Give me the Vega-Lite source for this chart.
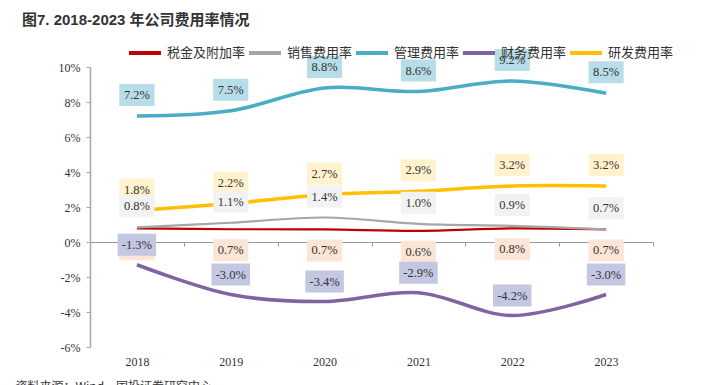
{
  "$schema": "https://vega.github.io/schema/vega-lite/v6.json",
  "width": 563,
  "height": 280,
  "autosize": {"type": "none"},
  "padding": {"left": 90, "top": 67, "right": 48, "bottom": 38},
  "background": "white",
  "title": {
    "text": "图7. 2018-2023 年公司费用率情况",
    "anchor": "start",
    "frame": "group",
    "dx": -68,
    "offset": 7,
    "fontSize": 15,
    "fontWeight": "bold",
    "font": "Liberation Sans, Noto Sans CJK SC",
    "color": "#333333"
  },
  "config": {
    "view": {"stroke": null},
    "locale": {
      "number": {"decimal": ".", "thousands": ",", "grouping": [3], "currency": ["$", ""], "minus": "-"}
    }
  },
  "data": {
    "values": [
      {"year": "2018", "series": "研发费用率", "value": 0.018},
      {"year": "2019", "series": "研发费用率", "value": 0.022},
      {"year": "2020", "series": "研发费用率", "value": 0.027},
      {"year": "2021", "series": "研发费用率", "value": 0.029},
      {"year": "2022", "series": "研发费用率", "value": 0.032},
      {"year": "2023", "series": "研发费用率", "value": 0.032},
      {"year": "2018", "series": "税金及附加率", "value": 0.0078},
      {"year": "2019", "series": "税金及附加率", "value": 0.0073},
      {"year": "2020", "series": "税金及附加率", "value": 0.0072},
      {"year": "2021", "series": "税金及附加率", "value": 0.0064},
      {"year": "2022", "series": "税金及附加率", "value": 0.0078},
      {"year": "2023", "series": "税金及附加率", "value": 0.0072},
      {"year": "2018", "series": "销售费用率", "value": 0.0084},
      {"year": "2019", "series": "销售费用率", "value": 0.011},
      {"year": "2020", "series": "销售费用率", "value": 0.014},
      {"year": "2021", "series": "销售费用率", "value": 0.0104},
      {"year": "2022", "series": "销售费用率", "value": 0.0092},
      {"year": "2023", "series": "销售费用率", "value": 0.0072},
      {"year": "2018", "series": "管理费用率", "value": 0.072},
      {"year": "2019", "series": "管理费用率", "value": 0.075},
      {"year": "2020", "series": "管理费用率", "value": 0.088},
      {"year": "2021", "series": "管理费用率", "value": 0.086},
      {"year": "2022", "series": "管理费用率", "value": 0.092},
      {"year": "2023", "series": "管理费用率", "value": 0.085},
      {"year": "2018", "series": "财务费用率", "value": -0.013},
      {"year": "2019", "series": "财务费用率", "value": -0.030},
      {"year": "2020", "series": "财务费用率", "value": -0.034},
      {"year": "2021", "series": "财务费用率", "value": -0.029},
      {"year": "2022", "series": "财务费用率", "value": -0.042},
      {"year": "2023", "series": "财务费用率", "value": -0.030}
    ]
  },
  "encoding": {
    "x": {
      "field": "year",
      "type": "ordinal",
      "scale": {"type": "band", "paddingInner": 0, "paddingOuter": 0},
      "axis": {
        "orient": "bottom",
        "offset": -105,
        "grid": false,
        "domainColor": "#999999",
        "domainWidth": 1.2,
        "tickColor": "#999999",
        "tickSize": 4,
        "tickBand": "extent",
        "labelAngle": 0,
        "labelFont": "Liberation Serif",
        "labelFontSize": 12,
        "labelColor": "#333333",
        "labelPadding": 110,
        "title": "资料来源：Wind，国投证券研究中心",
        "titleAnchor": "start",
        "titleAlign": "left",
        "titleX": -75,
        "titleY": 139,
        "titleBaseline": "top",
        "titleFont": "Noto Sans CJK SC",
        "titleFontSize": 12,
        "titleFontWeight": "normal",
        "titleColor": "#333333"
      }
    },
    "y": {
      "field": "value",
      "type": "quantitative",
      "scale": {"domain": [-0.06, 0.1], "nice": false, "zero": false},
      "axis": {
        "values": [-0.06, -0.04, -0.02, 0, 0.02, 0.04, 0.06, 0.08, 0.1],
        "format": ".0%",
        "grid": false,
        "domainColor": "#A6A6A6",
        "domainWidth": 1.5,
        "tickColor": "#A6A6A6",
        "tickSize": 4,
        "labelFont": "Liberation Serif",
        "labelFontSize": 12,
        "labelColor": "#333333",
        "labelPadding": 6,
        "title": null
      }
    }
  },
  "layer": [
    {
      "transform": [{"filter": "datum.series == '税金及附加率' || datum.series == '销售费用率'"}],
      "mark": {"type": "line", "interpolate": "cardinal", "tension": 0, "strokeWidth": 2.2},
      "encoding": {
        "color": {
          "field": "series",
          "type": "nominal",
          "scale": {
            "domain": ["税金及附加率", "销售费用率", "管理费用率", "财务费用率", "研发费用率"],
            "range": ["#C00000", "#A6A6A6", "#4BACC6", "#8064A2", "#FFC000"]
          },
          "legend": {
            "orient": "none",
            "legendX": 37,
            "legendY": -32,
            "direction": "horizontal",
            "gridAlign": "none",
            "title": null,
            "symbolType": "stroke",
            "symbolSize": 1024,
            "symbolStrokeWidth": 4,
            "labelFont": "Noto Sans CJK SC",
            "labelFontSize": 13,
            "labelColor": "#333333",
            "labelOffset": 4,
            "columnPadding": -5,
            "zindex": 5
          }
        }
      }
    },
    {
      "transform": [{"filter": "datum.series != '税金及附加率' && datum.series != '销售费用率'"}],
      "mark": {"type": "line", "interpolate": "cardinal", "tension": 0, "strokeWidth": 3.5},
      "encoding": {
        "color": {"field": "series", "type": "nominal"}
      }
    },
    {
      "transform": [{"filter": "datum.series == '税金及附加率'"}],
      "mark": {"type": "point", "shape": "M-1.6,-1H1.6V1H-1.6Z", "size": 484, "filled": true, "opacity": 1, "strokeWidth": 0, "yOffset": 21},
      "encoding": {
        "fill": {
          "field": "series",
          "type": "nominal",
          "scale": {
            "domain": ["税金及附加率", "销售费用率", "管理费用率", "财务费用率", "研发费用率"],
            "range": ["#FBE5D6", "#F2F2F2", "#B7DEE8", "#C3C7E2", "#FFF2CC"]
          },
          "legend": null
        }
      }
    },
    {
      "transform": [{"filter": "datum.series == '税金及附加率'"}],
      "mark": {"type": "text", "font": "Liberation Serif", "fontSize": 12.5, "color": "#333333", "yOffset": 21},
      "encoding": {"text": {"field": "value", "type": "quantitative", "format": ".1%"}}
    },
    {
      "transform": [{"filter": "datum.series == '研发费用率' || datum.series == '销售费用率' || datum.series == '管理费用率'"}],
      "mark": {"type": "point", "shape": "M-1.6,-1H1.6V1H-1.6Z", "size": 484, "filled": true, "opacity": 1, "strokeWidth": 0, "yOffset": -21},
      "encoding": {"fill": {"field": "series", "type": "nominal", "legend": null}}
    },
    {
      "transform": [{"filter": "datum.series == '研发费用率' || datum.series == '销售费用率' || datum.series == '管理费用率'"}],
      "mark": {"type": "text", "font": "Liberation Serif", "fontSize": 12.5, "color": "#333333", "yOffset": -21},
      "encoding": {"text": {"field": "value", "type": "quantitative", "format": ".1%"}}
    },
    {
      "transform": [{"filter": "datum.series == '财务费用率'"}],
      "mark": {"type": "point", "shape": "M-1.75,-1H1.75V1H-1.75Z", "size": 484, "filled": true, "opacity": 1, "strokeWidth": 0, "yOffset": -20},
      "encoding": {"fill": {"field": "series", "type": "nominal", "legend": null}}
    },
    {
      "transform": [{"filter": "datum.series == '财务费用率'"}],
      "mark": {"type": "text", "font": "Liberation Serif", "fontSize": 12.5, "color": "#333333", "yOffset": -20},
      "encoding": {"text": {"field": "value", "type": "quantitative", "format": ".1%"}}
    }
  ]
}
